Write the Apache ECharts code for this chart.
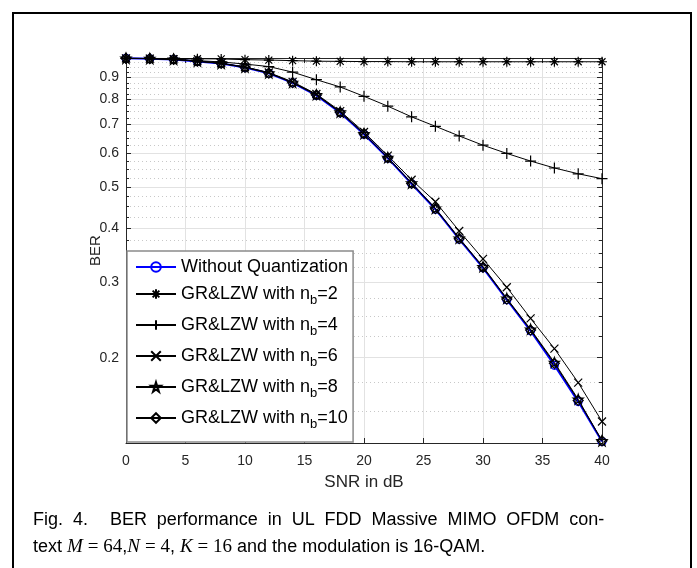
<!DOCTYPE html>
<html>
<head>
<meta charset="utf-8">
<script src="https://cdn.jsdelivr.net/npm/echarts@6/dist/echarts.min.js"></script>
<style>
html, body { margin: 0; padding: 0; background: #fff; }
#main { width: 697px; height: 568px; }
</style>
</head>
<body>
<div id="main"></div>
<script>
// SNR (dB) points
var snr = [0, 2, 4, 6, 8, 10, 12, 14, 16, 18, 20, 22, 24, 26, 28, 30, 32, 34, 36, 38, 40];
// BER curves
var noQuant = [0.998, 0.996, 0.992, 0.982, 0.971, 0.950, 0.921, 0.875, 0.818, 0.745, 0.664, 0.584, 0.509, 0.444, 0.378, 0.324, 0.273, 0.231, 0.192, 0.158, 0.1275];
var nb2 = [0.998, 0.998, 0.997, 0.996, 0.995, 0.991, 0.989, 0.986, 0.983, 0.982, 0.981, 0.981, 0.980, 0.980, 0.980, 0.980, 0.980, 0.980, 0.980, 0.980, 0.980];
var nb4 = [0.998, 0.997, 0.993, 0.986, 0.979, 0.968, 0.955, 0.927, 0.890, 0.856, 0.814, 0.772, 0.729, 0.693, 0.658, 0.626, 0.599, 0.575, 0.554, 0.537, 0.523];
var nb6 = [0.998, 0.997, 0.993, 0.983, 0.972, 0.953, 0.925, 0.880, 0.824, 0.752, 0.672, 0.592, 0.520, 0.462, 0.395, 0.340, 0.292, 0.247, 0.210, 0.175, 0.142];
var nb8 = [0.998, 0.997, 0.993, 0.983, 0.972, 0.952, 0.923, 0.877, 0.821, 0.748, 0.666, 0.586, 0.511, 0.446, 0.380, 0.326, 0.275, 0.233, 0.195, 0.160, 0.128];
var nb10 = [0.998, 0.997, 0.993, 0.983, 0.971, 0.951, 0.922, 0.876, 0.820, 0.747, 0.666, 0.585, 0.510, 0.445, 0.379, 0.325, 0.274, 0.232, 0.194, 0.159, 0.128];

// y ticks (log axis)
var yTicks = [0.2, 0.3, 0.4, 0.5, 0.6, 0.7, 0.8, 0.9];
var yMinor = [0.15, 0.175, 0.225, 0.25, 0.275, 0.325, 0.35, 0.375, 0.425, 0.45, 0.475,
    0.525, 0.55, 0.575, 0.625, 0.65, 0.675, 0.725, 0.75, 0.775, 0.825, 0.85, 0.875,
    0.925, 0.95, 0.975];

var font = "'Liberation Sans', Arial, Helvetica, sans-serif";
var serif = "'Liberation Serif', 'DejaVu Serif', serif";
var axisColor = '#262626';

var symAsterisk = 'path://M5,0L5,10M0,5L10,5M1.5,1.5L8.5,8.5M8.5,1.5L1.5,8.5';
var symPlus = 'path://M5,0L5,10M0,5L10,5';
var symCross = 'path://M0,0L10,10M10,0L0,10';
var symStar = 'path://M5,0L6.18,3.62L10,3.62L6.91,5.86L8.09,9.47L5,7.24L1.91,9.47L3.09,5.86L0,3.62L3.82,3.62Z';

function pairs(vals) {
    return snr.map(function (x, i) { return [x, vals[i]]; });
}

function makeSeries(name, vals, color, width, symbol, size) {
    return {
        name: name,
        type: 'line',
        xAxisIndex: 0,
        yAxisIndex: 0,
        data: pairs(vals),
        symbol: symbol,
        symbolSize: size,
        showSymbol: true,
        lineStyle: { color: color, width: width },
        itemStyle: { color: 'rgba(0,0,0,0)', borderColor: color, borderWidth: 1.2 },
        emphasis: { disabled: true },
        silent: true
    };
}

function yAxisBase(pos) {
    return {
        type: 'log',
        min: 0.1265,
        max: 1,
        position: pos,
        axisLine: { show: false },
        axisLabel: { show: false },
        splitLine: { show: false },
        minorTick: { show: false }
    };
}

var yMajorLeft = yAxisBase('left');
yMajorLeft.axisLine = { show: true, lineStyle: { color: axisColor, width: 1 } };
yMajorLeft.axisTick = { show: true, inside: true, length: 5, customValues: yTicks, lineStyle: { color: axisColor } };
yMajorLeft.axisLabel = {
    show: true, customValues: yTicks, margin: 7, fontSize: 14, color: axisColor, fontFamily: font,
    formatter: function (v) { return String(v); }
};
yMajorLeft.splitLine = { show: true, lineStyle: { color: '#e2e2e2', width: 1 } };
yMajorLeft.name = 'BER';
yMajorLeft.nameLocation = 'middle';
yMajorLeft.nameGap = 23;
yMajorLeft.nameMoveOverlap = false;
yMajorLeft.nameTextStyle = { fontSize: 15, color: axisColor, fontFamily: font };

var yMinorLeft = yAxisBase('left');
yMinorLeft.axisTick = { show: true, inside: true, length: 3, customValues: yMinor, lineStyle: { color: axisColor } };
yMinorLeft.splitLine = { show: true, lineStyle: { color: '#c8c8c8', width: 1, type: [1, 3] } };

var yMajorRight = yAxisBase('right');
yMajorRight.axisLine = { show: true, lineStyle: { color: axisColor, width: 1 } };
yMajorRight.axisTick = { show: true, inside: true, length: 5, customValues: yTicks, lineStyle: { color: axisColor } };

var yMinorRight = yAxisBase('right');
yMinorRight.axisTick = { show: true, inside: true, length: 3, customValues: yMinor, lineStyle: { color: axisColor } };

// caption line 1 is justified, so the word gaps are widened
var capWords = ['Fig.', '4.', 'BER', 'performance', 'in', 'UL', 'FDD', 'Massive', 'MIMO', 'OFDM', 'con-'];
var capLine1 = capWords[0] + '{g| }' + capWords[1] + '{G| }' + capWords.slice(2).join('{g| }');

var chart = echarts.init(document.getElementById('main'));
var option = {
    animation: false,
    backgroundColor: '#fff',
    grid: { left: 126, right: 95, top: 58, bottom: 125, containLabel: false },
    xAxis: [{
        type: 'value', min: 0, max: 40, interval: 5, position: 'bottom',
        axisLine: { show: true, onZero: false, lineStyle: { color: axisColor, width: 1 } },
        axisTick: { show: true, inside: true, length: 5, lineStyle: { color: axisColor } },
        axisLabel: { margin: 11, fontSize: 14, color: axisColor, fontFamily: font },
        splitLine: { show: true, lineStyle: { color: '#e2e2e2', width: 1 } },
        name: 'SNR in dB', nameLocation: 'middle', nameGap: 31, nameMoveOverlap: false,
        nameTextStyle: { fontSize: 17, color: axisColor, fontFamily: font }
    }, {
        type: 'value', min: 0, max: 40, interval: 5, position: 'top',
        axisLine: { show: true, onZero: false, lineStyle: { color: axisColor, width: 1 } },
        axisTick: { show: true, inside: true, length: 5, lineStyle: { color: axisColor } },
        axisLabel: { show: false },
        splitLine: { show: false }
    }],
    yAxis: [yMajorLeft, yMinorLeft, yMajorRight, yMinorRight],
    legend: {
        orient: 'vertical',
        left: 127,
        top: 251,
        padding: [7, 5, 11, 8],
        itemGap: 9,
        itemWidth: 40,
        itemHeight: 12,
        backgroundColor: '#fff',
        borderColor: '#8a8a8a',
        borderWidth: 1.5,
        textStyle: {
            fontSize: 18, color: '#000', fontFamily: font,
            rich: {
                t0: { fontSize: 18, fontFamily: font, color: '#000', lineHeight: 18 },
                t: { fontSize: 18, fontFamily: font, color: '#000', lineHeight: 26, verticalAlign: 'middle' },
                sub: { fontSize: 13, fontFamily: font, color: '#000', lineHeight: 12, verticalAlign: 'bottom' }
            }
        },
        formatter: function (name) {
            var k = name.indexOf('n_b');
            if (k < 0) return '{t0|' + name + '}';
            return '{t|' + name.slice(0, k) + 'n}{sub|b}{t|' + name.slice(k + 3) + '}';
        },
        data: ['Without Quantization', 'GR&LZW with n_b=2', 'GR&LZW with n_b=4',
            'GR&LZW with n_b=6', 'GR&LZW with n_b=8', 'GR&LZW with n_b=10']
    },
    series: [
        makeSeries('Without Quantization', noQuant, '#0000ff', 2, 'circle', 8),
        makeSeries('GR&LZW with n_b=2', nb2, '#000', 1, symAsterisk, 10),
        makeSeries('GR&LZW with n_b=4', nb4, '#000', 1, symPlus, 11),
        makeSeries('GR&LZW with n_b=6', nb6, '#000', 1, symCross, 8),
        makeSeries('GR&LZW with n_b=8', nb8, '#000', 1, symStar, 10),
        makeSeries('GR&LZW with n_b=10', nb10, '#000', 1, 'diamond', 10)
    ],
    graphic: [{
        type: 'rect',
        shape: { x: 13, y: 13, width: 678, height: 570 },
        style: { fill: 'none', stroke: '#000', lineWidth: 2 },
        silent: true
    }, {
        type: 'text',
        x: 33, y: 520,
        style: {
            text: capLine1,
            font: '18px ' + font, fill: '#000', verticalAlign: 'middle',
            rich: {
                g: { width: 9.9, fontSize: 18, fontFamily: font },
                G: { width: 22, fontSize: 18, fontFamily: font }
            }
        },
        silent: true
    }, {
        type: 'text',
        x: 33, y: 547,
        style: {
            text: 'text {i|M} {m|= 64},{i|N} {m|= 4}, {i|K} {m|= 16} and the modulation is 16-QAM.',
            font: '18px ' + font, fill: '#000', verticalAlign: 'middle',
            rich: {
                i: { fontFamily: serif, fontStyle: 'italic', fontSize: 19, fill: '#000' },
                m: { fontFamily: serif, fontSize: 19, fill: '#000' }
            }
        },
        silent: true
    }]
};
chart.setOption(option);
</script>
</body>
</html>
